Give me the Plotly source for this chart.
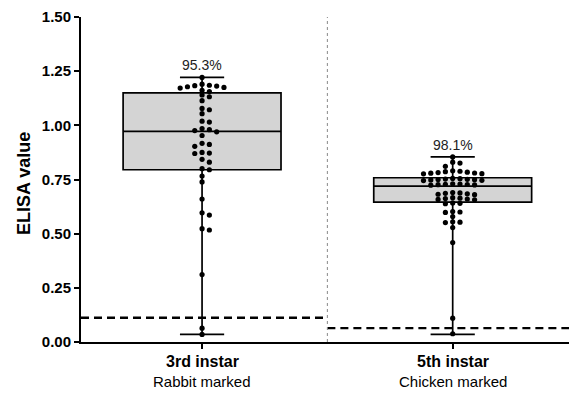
import plotly.graph_objects as go
import numpy as np

# ---------------- data ----------------
categories = ["3rd instar", "5th instar"]
subtitles = ["Rabbit marked", "Chicken marked"]
percent_labels = ["95.3%", "98.1%"]
y_ticks = [0, 0.25, 0.5, 0.75, 1.0, 1.25, 1.5]

values_3rd = [1.221,
              1.190, 1.185, 1.183, 1.181, 1.178, 1.175, 1.172,
              1.162, 1.156,
              1.140, 1.132,
              1.114, 1.078, 1.072, 1.054, 1.019, 1.015, 0.985, 0.980,
              0.976, 0.970, 0.953, 0.917, 0.912, 0.903,
              0.875, 0.872, 0.870, 0.843, 0.830,
              0.800, 0.795, 0.766, 0.739, 0.660,
              0.596, 0.586, 0.523, 0.517, 0.311, 0.064, 0.035]

values_5th = [0.854, 0.830, 0.826, 0.811,
              0.790, 0.788, 0.786, 0.784, 0.782, 0.780, 0.779, 0.777, 0.776,
              0.755, 0.754, 0.752, 0.751, 0.750, 0.749, 0.748, 0.746, 0.745,
              0.730, 0.729, 0.728, 0.727, 0.726, 0.725, 0.724,
              0.690, 0.688, 0.686, 0.684, 0.682, 0.680,
              0.666, 0.664, 0.662, 0.660, 0.658, 0.656,
              0.642, 0.640, 0.638,
              0.602, 0.600, 0.598,
              0.579, 0.555, 0.553, 0.551, 0.528, 0.459, 0.110, 0.038]

# box statistics (min-to-max whiskers)
box_q1 = [0.795, 0.646]
box_median = [0.972, 0.719]
box_q3 = [1.150, 0.758]
box_min = [0.035, 0.035]
box_max = [1.221, 0.854]

# cutoff lines
cutoffs = [0.112, 0.064]

# ---------------- layout geometry ----------------
# the page body has an 8px default margin, so the figure is offset by 8px
W, H = 569, 388
ml, mr, mt, mb = 73, 3, 9, 54
xr = [-0.483, 1.484]
yr = [0, 1.5]
plot_w = W - ml - mr
plot_h = H - mt - mb
px_per_x = plot_w / (xr[1] - xr[0])
px_per_y = plot_h / (yr[1] - yr[0])


def swarm(vals, d=7.3, dy=4.6):
    """Greedy row-style beeswarm: returns x-offsets (data units)."""
    order = np.argsort(-np.array(vals))
    placed = []
    offs = [0.0] * len(vals)
    cands = [0.0]
    for k in range(1, 30):
        cands += [k * d / 2, -k * d / 2]
    for i in order:
        yp = vals[i] * px_per_y
        for c in cands:
            ok = True
            for (xo, yo) in placed:
                if abs(xo - c) < d * 0.99 and abs(yo - yp) < dy:
                    ok = False
                    break
            if ok:
                placed.append((c, yp))
                offs[i] = c / px_per_x
                break
    return offs


fig = go.Figure()
font_fam = "Arial, Liberation Sans, sans-serif"

for gi, vals in enumerate([values_3rd, values_5th]):
    fig.add_trace(go.Box(
        x=[gi], q1=[box_q1[gi]], median=[box_median[gi]], q3=[box_q3[gi]],
        lowerfence=[box_min[gi]], upperfence=[box_max[gi]],
        width=0.63, whiskerwidth=0.28, boxpoints=False,
        fillcolor="#d4d4d4", line=dict(color="black", width=1.7),
        showlegend=False, hoverinfo="skip"))
    offs = swarm(vals)
    fig.add_trace(go.Scatter(
        x=[gi + o for o in offs], y=vals, mode="markers",
        marker=dict(color="black", size=5.2, line=dict(width=0)),
        showlegend=False))
    fig.add_annotation(x=gi, y=box_max[gi], text=percent_labels[gi],
                       showarrow=False, yanchor="bottom", yshift=2,
                       font=dict(family=font_fam, size=14, color="#222"))
    fig.add_annotation(x=gi, y=0, yref="paper", text=f"<b>{categories[gi]}</b>",
                       showarrow=False, yanchor="middle", yshift=-19,
                       font=dict(family=font_fam, size=16, color="black"))
    fig.add_annotation(x=gi, y=0, yref="paper", text=subtitles[gi],
                       showarrow=False, yanchor="middle", yshift=-39,
                       font=dict(family=font_fam, size=15, color="black"))

fig.add_annotation(x=0, xref="paper", y=0.5, yref="paper",
                   text="<b>ELISA value</b>", textangle=-90, showarrow=False,
                   xanchor="center", yanchor="middle", xshift=-57.5, yshift=-4,
                   font=dict(family=font_fam, size=18, color="black"))

# cutoff dashed lines
fig.add_shape(type="line", x0=xr[0], x1=0.5, y0=cutoffs[0], y1=cutoffs[0],
              line=dict(color="black", width=2.4, dash="8px,5px"))
fig.add_shape(type="line", x0=0.5, x1=xr[1], y0=cutoffs[1], y1=cutoffs[1],
              line=dict(color="black", width=2.4, dash="8px,5px"))
# divider
fig.add_shape(type="line", x0=0.5, x1=0.5, y0=0, y1=1.5,
              line=dict(color="#888", width=1, dash="dot"))

fig.update_layout(
    width=W, height=H,
    margin=dict(l=ml, r=mr, t=mt, b=mb, autoexpand=False),
    plot_bgcolor="white", paper_bgcolor="white",
    font=dict(family=font_fam, color="black"),
    xaxis=dict(range=xr, tickvals=[0, 1], showticklabels=False,
               showline=True, linecolor="black", linewidth=2,
               ticks="outside", ticklen=5, tickwidth=1.5, tickcolor="black",
               showgrid=False, zeroline=False, automargin=False),
    yaxis=dict(range=yr, tickvals=y_ticks,
               ticktext=[f"<b>{v:.2f}</b>" for v in y_ticks],
               showline=True, linecolor="black", linewidth=2,
               ticks="outside", ticklen=5, tickwidth=1.5, tickcolor="black",
               showgrid=False, zeroline=False, automargin=False,
               ticklabeloverflow="allow",
               tickfont=dict(size=15, family=font_fam, color="black")),
)

fig.write_html("out.html")
